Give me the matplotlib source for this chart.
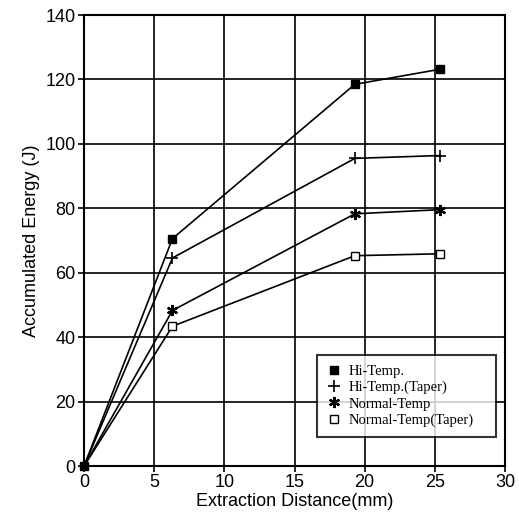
import matplotlib
matplotlib.use("Agg")
import matplotlib.pyplot as plt

x_hi = [0, 6.3, 19.3, 25.4]
hi_temp = [0, 70.6, 118.5, 123.2]
x_hit = [0, 6.3, 19.3, 25.4]
hi_temp_taper = [0, 64.6, 95.5, 96.4]
x_nt = [0, 6.3, 19.3, 25.4]
normal_temp = [0, 48.3, 78.3, 79.6]
x_ntt = [0, 6.3, 19.3, 25.4]
normal_temp_taper = [0, 43.4, 65.3, 65.9]

labels = ["Hi-Temp.", "Hi-Temp.(Taper)", "Normal-Temp", "Normal-Temp(Taper)"]
xticks = [0, 5, 10, 15, 20, 25, 30]
yticks = [0, 20, 40, 60, 80, 100, 120, 140]

plt.rcParams['font.family'] = ['Liberation Sans', 'DejaVu Sans']
fig = plt.figure(figsize=(5.19, 5.19), dpi=100)
ax = fig.add_axes([0.162, 0.102, 0.811, 0.869])

ax.plot(x_nt, normal_temp, color='black', lw=1.2, marker=(6, 2, 0), ms=8, mew=1.6,
        markevery=[1, 2, 3], label=labels[2])
ax.plot(x_ntt, normal_temp_taper, color='black', lw=1.2, marker='s', ms=6, mfc='white',
        mec='black', mew=1.0, markevery=[1, 2, 3], label=labels[3])
ax.plot(x_hit, hi_temp_taper, color='black', lw=1.2, marker='+', ms=8, mew=1.2,
        markevery=[1, 2, 3], label=labels[1])
ax.plot(x_hi, hi_temp, color='black', lw=1.2, marker='s', ms=6, mfc='black', mec='black',
        label=labels[0], clip_on=False, zorder=5)

ax.set_xlim(0, 30)
ax.set_ylim(0, 140)
ax.set_xticks(xticks)
ax.set_yticks(yticks)
ax.grid(True, color='black', lw=1.2)
ax.set_axisbelow(True)
for s in ax.spines.values():
    s.set_linewidth(1.5)
ax.tick_params(direction='out', length=4, width=1.2, labelsize=13, colors='black', pad=2)
ax.set_xlabel("Extraction Distance(mm)", fontsize=13, labelpad=1)
ax.set_ylabel("Accumulated Energy (J)", fontsize=13, labelpad=4)

handles, labs = ax.get_legend_handles_labels()
order = [labs.index(l) for l in labels]
leg = ax.legend([handles[i] for i in order], [labs[i] for i in order],
                loc='lower left', bbox_to_anchor=(0.553, 0.064, 0.425, 0.18), mode='expand',
                prop={'family': ['Liberation Serif', 'DejaVu Serif'], 'size': 10.5},
                frameon=True, fancybox=False, handlelength=1.0, handletextpad=0.5,
                borderpad=0.7, labelspacing=0.2, borderaxespad=0)
leg.get_frame().set_edgecolor('black')
leg.get_frame().set_linewidth(1.5)
for h in leg.get_lines():
    h.set_linestyle('None')

fig.savefig("out.png", dpi=100)
